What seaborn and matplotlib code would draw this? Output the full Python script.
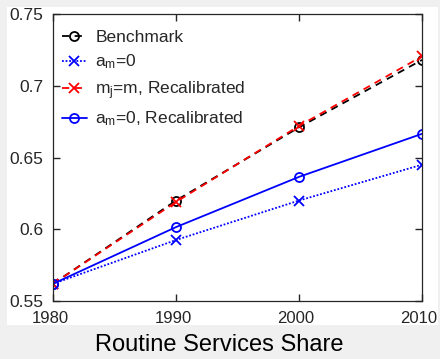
import matplotlib
matplotlib.use("Agg")
import matplotlib.pyplot as plt
import matplotlib.transforms as mtransforms
import seaborn as sns
from matplotlib.ticker import FormatStrFormatter
from matplotlib.patches import Rectangle

years = [1980, 1990, 2000, 2010]
benchmark = [0.562, 0.620, 0.671, 0.718]
am_zero = [0.562, 0.5925, 0.620, 0.645]
mj_recal = [0.562, 0.619, 0.672, 0.7205]
am_zero_recal = [0.562, 0.6015, 0.6365, 0.6665]
labels = ["Benchmark", r"a$_{m}$=0", r"m$_{j}$=m, Recalibrated", r"a$_{m}$=0, Recalibrated"]
xticks = [1980, 1990, 2000, 2010]
yticks = [0.55, 0.6, 0.65, 0.7, 0.75]

sns.set_style("white")
plt.rcParams["font.family"] = ["Liberation Sans", "DejaVu Sans"]
plt.rcParams["mathtext.fontset"] = "custom"
plt.rcParams["mathtext.rm"] = "Liberation Sans"
plt.rcParams["mathtext.it"] = "Liberation Sans"
plt.rcParams["mathtext.default"] = "regular"

fig = plt.figure(figsize=(4.4, 3.59), dpi=100, facecolor="#f0f0f0")
W, H = 440, 359
bg = Rectangle((7 / W, 1 - 325 / H), (438 - 7) / W, (325 - 7) / H,
               transform=fig.transFigure, facecolor="white",
               edgecolor="none", zorder=-10)
fig.patches.append(bg)
ax = fig.add_axes([53 / W, 1 - 301 / H, (422 - 53) / W, (301 - 14) / H])
ax.set_zorder(5)
ax.set_facecolor("white")

styles = [
    (benchmark, "black", (0, (4, 3)), "o"),
    (am_zero, "#0000ff", (0, (1, 1)), "x"),
    (mj_recal, "#ff0000", (0, (4, 3)), "x"),
    (am_zero_recal, "#0000ff", "-", "o"),
]
for (vals, col, ls, mk), lab in zip(styles, labels):
    sns.lineplot(x=years, y=vals, color=col, linestyle=ls, marker=mk, label=lab,
                 markersize=6.5, markerfacecolor="none", markeredgecolor=col,
                 linewidth=1.3, markeredgewidth=1.3, ax=ax)

ax.set_xlim(1980, 2010)
ax.set_ylim(0.55, 0.75)
ax.set_xticks(xticks)
ax.set_yticks(yticks)
ax.yaxis.set_major_formatter(FormatStrFormatter("%g"))
ax.tick_params(direction="in", length=5, width=1.0, top=True, right=True,
               bottom=True, left=True, colors="#262626", pad=7)
ax.tick_params(axis="x", labelsize=12)
ax.tick_params(axis="y", labelsize=12.5)
offset = mtransforms.ScaledTranslation(-3 / 100, 0, fig.dpi_scale_trans)
for lbl in ax.get_xticklabels():
    lbl.set_transform(lbl.get_transform() + offset)
for s in ax.spines.values():
    s.set_color("#262626")
    s.set_linewidth(0.9)
ax.set_xlabel("")
ax.set_ylabel("")

leg = ax.legend(loc="upper left", bbox_to_anchor=(0.025, 0.945), frameon=False,
                fontsize=12.5, handlelength=1.4, handletextpad=0.5, labelspacing=0.45,
                borderpad=0, borderaxespad=0)

fig.text(219 / W, 1 - 345 / H, "Routine Services Share", ha="center", va="center",
         fontsize=17, color="black")

fig.savefig("out.png", dpi=100, facecolor=fig.get_facecolor())
